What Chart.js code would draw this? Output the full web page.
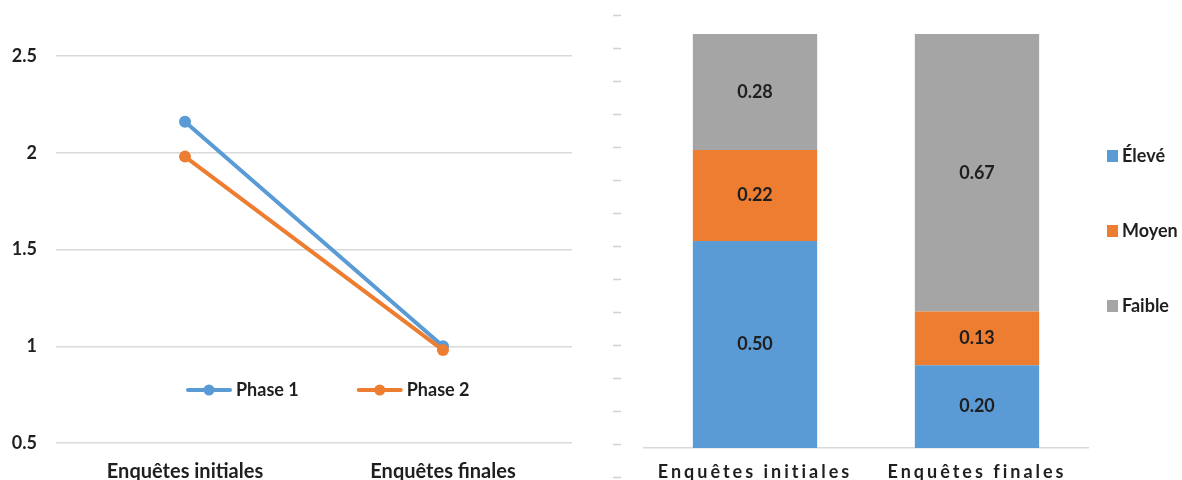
<!DOCTYPE html>
<html lang="fr">
<head>
<meta charset="utf-8">
<title>Enquêtes initiales et finales</title>
<script src="https://cdn.jsdelivr.net/npm/chart.js@4.4.1/dist/chart.umd.min.js"></script>
<style>
  html, body { margin: 0; padding: 0; background: #fff; }
  #wrap { position: relative; width: 1182px; height: 480px; overflow: hidden; }
  #lineChart { position: absolute; left: 0; top: 0; }
  #barChart { position: absolute; left: 600px; top: 0; }
</style>
</head>
<body>
<div id="wrap">
  <canvas id="lineChart" width="600" height="480"></canvas>
  <canvas id="barChart" width="582" height="480"></canvas>
</div>
<script>
// Catégories et séries
const surveys = ['Enquêtes initiales', 'Enquêtes finales'];

const phaseLabels = ['Phase 1', 'Phase 2'];
const phase1 = [2.16, 1.00];
const phase2 = [1.98, 0.98];

const levelLabels = ['Élevé', 'Moyen', 'Faible'];
const eleve = [0.50, 0.20];
const moyen = [0.22, 0.13];
const faible = [0.28, 0.67];

const BLUE = '#5b9bd5';
const ORANGE = '#ed7d31';
const GREY = '#a5a5a5';
const TEXT = '#1f1f1f';
const FONT = 'Lato';
const TICK_STEP = 0.0797; // pas des petits traits de l'axe vertical (graphique en barres)

Chart.defaults.font.family = FONT;
Chart.defaults.color = TEXT;

// Légende placée dans la zone du graphique linéaire
const inlineLegend = {
  id: 'inlineLegend',
  afterDraw(chart, args, opts) {
    const ctx = chart.ctx;
    let x = opts.x;
    ctx.save();
    ctx.font = `bold ${opts.size}px ${FONT}`;
    ctx.textBaseline = 'middle';
    ctx.lineCap = 'round';
    chart.data.datasets.forEach(ds => {
      ctx.strokeStyle = ds.borderColor;
      ctx.lineWidth = opts.lineWidth;
      ctx.beginPath();
      ctx.moveTo(x, opts.y);
      ctx.lineTo(x + opts.lineLength, opts.y);
      ctx.stroke();
      ctx.fillStyle = ds.borderColor;
      ctx.beginPath();
      ctx.arc(x + opts.lineLength / 2, opts.y, opts.dot, 0, Math.PI * 2);
      ctx.fill();
      ctx.fillStyle = TEXT;
      const tx = x + opts.lineLength + opts.textGap;
      ctx.fillText(ds.label, tx, opts.y);
      x = tx + ctx.measureText(ds.label).width + opts.itemGap;
    });
    ctx.restore();
  }
};

// Valeurs inscrites au milieu de chaque segment
const barValues = {
  id: 'barValues',
  afterDatasetsDraw(chart, args, opts) {
    const ctx = chart.ctx;
    ctx.save();
    ctx.font = `bold ${opts.size}px ${FONT}`;
    ctx.fillStyle = TEXT;
    ctx.textAlign = 'center';
    ctx.textBaseline = 'middle';
    chart.data.datasets.forEach((ds, di) => {
      chart.getDatasetMeta(di).data.forEach((bar, i) => {
        ctx.fillText(ds.data[i].toFixed(2), bar.x, (bar.y + bar.base) / 2);
      });
    });
    ctx.restore();
  }
};

// Étiquettes de l'axe X espacées (dessinées après les barres, ticks.z = 1)
const spacedTicks = {
  id: 'spacedTicks',
  afterDatasetsDraw(chart, args, opts) {
    chart.ctx.letterSpacing = opts.spacing;
  },
  afterDraw(chart) {
    chart.ctx.letterSpacing = '0px';
  }
};

// Légende verticale à droite du graphique en barres
const sideLegend = {
  id: 'sideLegend',
  afterDraw(chart, args, opts) {
    const ctx = chart.ctx;
    ctx.save();
    ctx.font = `bold ${opts.size}px ${FONT}`;
    ctx.textBaseline = 'middle';
    chart.data.datasets.forEach((ds, i) => {
      const y = opts.y + i * opts.step;
      ctx.fillStyle = ds.backgroundColor;
      ctx.fillRect(opts.x, y - opts.box / 2, opts.box - 1, opts.box);
      ctx.fillStyle = TEXT;
      ctx.fillText(ds.label, opts.x + opts.textGap, y);
    });
    ctx.restore();
  }
};

new Chart(document.getElementById('lineChart'), {
  type: 'line',
  data: {
    labels: surveys,
    datasets: [
      { label: phaseLabels[0], data: phase1, borderColor: BLUE, backgroundColor: BLUE, order: 1 },
      { label: phaseLabels[1], data: phase2, borderColor: ORANGE, backgroundColor: ORANGE, order: 0 }
    ]
  },
  options: {
    responsive: false,
    animation: false,
    layout: { padding: { top: 56, right: 28 } },
    elements: {
      line: { borderWidth: 4, borderCapStyle: 'round', tension: 0 },
      point: { radius: 6, borderWidth: 0 }
    },
    plugins: {
      legend: { display: false },
      tooltip: { enabled: false },
      inlineLegend: { x: 188, y: 390, size: 18, lineLength: 42, lineWidth: 4, dot: 5.5, textGap: 6, itemGap: 60 }
    },
    scales: {
      x: {
        offset: true,
        grid: { display: false },
        border: { display: false },
        ticks: { padding: 9, maxRotation: 0, font: { size: 20, weight: 'bold' }, color: TEXT },
        afterFit: s => { s.height = 37; }
      },
      y: {
        min: 0.5,
        max: 2.5,
        ticks: {
          stepSize: 0.5,
          padding: 19,
          font: { size: 18, weight: 'bold' },
          color: TEXT,
          callback: v => String(+v.toFixed(1))
        },
        grid: { color: '#d9d9d9', lineWidth: 1.5, drawTicks: false },
        border: { display: false },
        afterFit: s => { s.width = 56; }
      }
    }
  },
  plugins: [inlineLegend]
});

new Chart(document.getElementById('barChart'), {
  type: 'bar',
  data: {
    labels: surveys,
    datasets: [
      { label: levelLabels[0], data: eleve, backgroundColor: BLUE },
      { label: levelLabels[1], data: moyen, backgroundColor: ORANGE },
      { label: levelLabels[2], data: faible, backgroundColor: GREY }
    ]
  },
  options: {
    responsive: false,
    animation: false,
    layout: { padding: { top: 15, bottom: 3, right: 94 } },
    datasets: { bar: { barPercentage: 0.56, categoryPercentage: 1 } },
    plugins: {
      legend: { display: false },
      tooltip: { enabled: false },
      barValues: { size: 18 },
      spacedTicks: { spacing: '3px' },
      sideLegend: { x: 507, y: 156, step: 75, box: 12, textGap: 15, size: 18 }
    },
    scales: {
      x: {
        stacked: true,
        position: { y: 0 },
        grid: { display: false },
        border: { color: '#d9d9d9', width: 1.5 },
        ticks: { z: 1, padding: 5, maxRotation: 0, autoSkip: false, font: { size: 18, weight: 'bold' }, color: TEXT },
        afterFit: s => { s.height = 0; }
      },
      y: {
        stacked: true,
        min: -0.07,
        max: 1.046,
        ticks: { display: false },
        grid: { drawOnChartArea: false, tickLength: 31, tickWidth: 1.5, tickColor: '#cdd2da', tickBorderDash: [8, 100] },
        border: { display: false },
        afterBuildTicks: axis => {
          const ticks = [];
          for (let v = axis.min; v <= axis.max + 1e-6; v += TICK_STEP) ticks.push({ value: v });
          axis.ticks = ticks;
        },
        afterFit: s => { s.width = 44; }
      }
    }
  },
  plugins: [barValues, spacedTicks, sideLegend]
});
</script>
</body>
</html>
